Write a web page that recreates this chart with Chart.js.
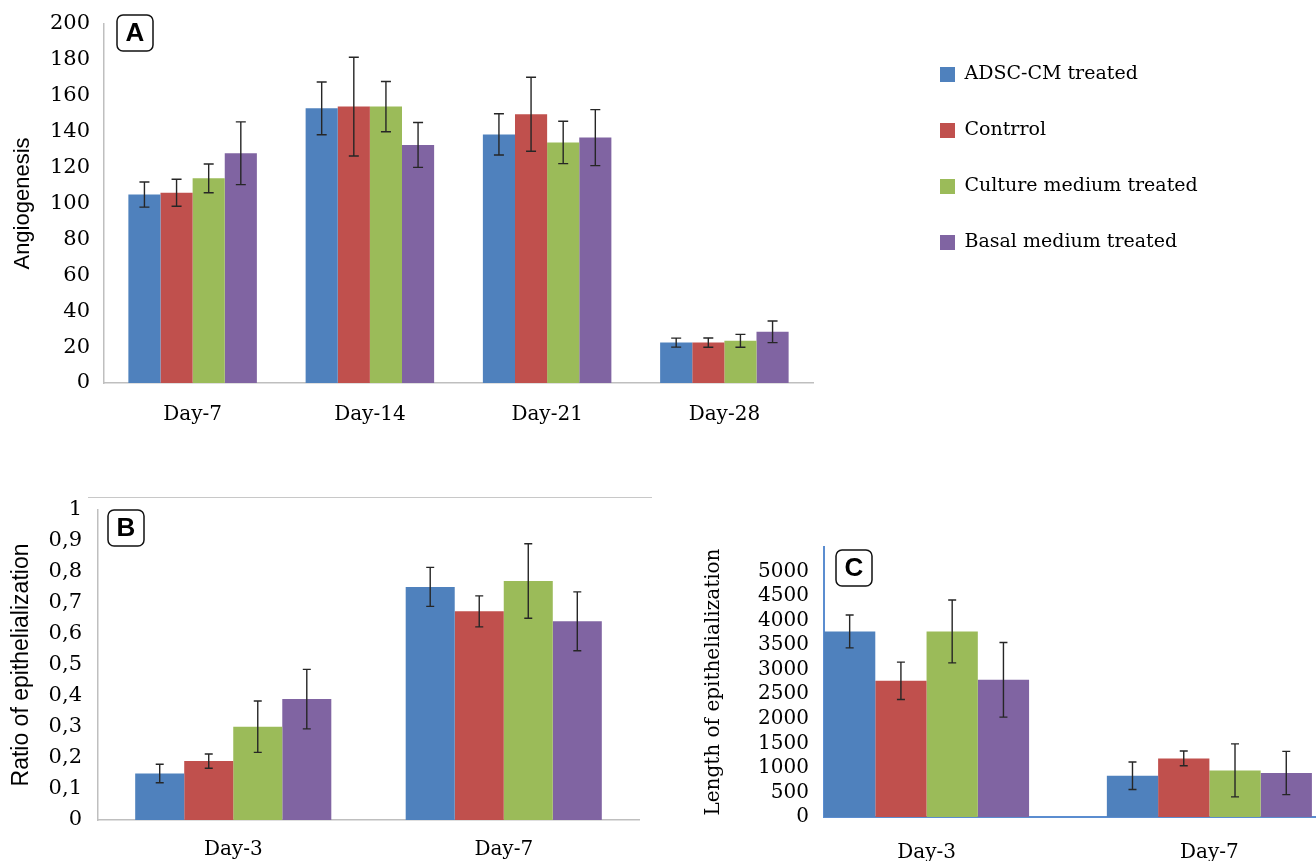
<!DOCTYPE html>
<html>
<head>
<meta charset="utf-8">
<script src="https://cdn.jsdelivr.net/npm/chart.js@4/dist/chart.umd.min.js"></script>
<style>
  body { margin: 0; background: #fff; width: 1316px; height: 861px; overflow: hidden; position: relative; }
  canvas { position: absolute; }
</style>
</head>
<body>
<canvas id="chartA" width="840" height="430" style="left:0;top:0"></canvas>
<canvas id="chartB" width="660" height="371" style="left:0;top:490px"></canvas>
<canvas id="chartC" width="626" height="335" style="left:690px;top:526px"></canvas>
<canvas id="legendBox" width="415" height="300" style="left:903px;top:28px"></canvas>
<script>
// === Gruppen + Farben ===
const groups = ['ADSC-CM treated', 'Contrrol', 'Culture medium treated', 'Basal medium treated'];
const colors = ['#4f81bd', '#c0504d', '#9bbb59', '#8064a2'];

// === A: Angiogenesis ===
const daysA = ['Day-7', 'Day-14', 'Day-21', 'Day-28'];
const angioMean = [
    [105, 153, 138.5, 22.5],
    [106, 154, 149.7, 22.5],
    [114, 154, 134, 23.5],
    [128, 132.6, 136.7, 28.5]
];
const angioErr = [
    [7, 14.7, 11.5, 2.5],
    [7.5, 27.5, 20.6, 2.6],
    [8, 14, 11.8, 3.6],
    [17.5, 12.5, 15.6, 6]
];

// === B: Ratio of epithelialization ===
const daysB = ['Day-3', 'Day-7'];
const ratioMean = [
    [0.15, 0.752],
    [0.19, 0.673],
    [0.301, 0.771],
    [0.39, 0.641]
];
const ratioErr = [
    [0.03, 0.063],
    [0.023, 0.05],
    [0.083, 0.12],
    [0.096, 0.095]
];
const ticksB = ['0', '0,1', '0,2', '0,3', '0,4', '0,5', '0,6', '0,7', '0,8', '0,9', '1'];

// === C: Length of epithelialization ===
const daysC = ['Day-3', 'Day-7'];
const lengthMean = [
    [3780, 841],
    [2775, 1193],
    [3780, 949],
    [2795, 896]
];
const lengthErr = [
    [335, 280],
    [380, 150],
    [640, 540],
    [760, 440]
];

const serif = 'DejaVu Serif';
const sans = 'Liberation Sans';

// === Fehlerbalken ===
const errorBars = {
    id: 'errorBars',
    afterDatasetsDraw(chart, args, opts) {
        const ctx = chart.ctx;
        const yScale = chart.scales.y;
        ctx.save();
        ctx.strokeStyle = '#262626';
        ctx.lineWidth = 1.4;
        chart.data.datasets.forEach((ds, i) => {
            const meta = chart.getDatasetMeta(i);
            meta.data.forEach((bar, j) => {
                const v = meta.controller.getParsed(j).y;
                const e = ds.errors[j];
                const top = yScale.getPixelForValue(v + e);
                const bot = yScale.getPixelForValue(v - e);
                const c = opts.cap || 5;
                ctx.beginPath();
                ctx.moveTo(bar.x, top); ctx.lineTo(bar.x, bot);
                ctx.moveTo(bar.x - c, top); ctx.lineTo(bar.x + c, top);
                ctx.moveTo(bar.x - c, bot); ctx.lineTo(bar.x + c, bot);
                ctx.stroke();
            });
        });
        ctx.restore();
    }
};

// === Buchstabe A / B / C im Kasten ===
const panelTag = {
    id: 'panelTag',
    afterDraw(chart, args, o) {
        if (!o.text) return;
        const { ctx, chartArea } = chart;
        const x = chartArea.left + o.dx, y = chartArea.top + o.dy, w = 36, h = 36;
        ctx.save();
        ctx.beginPath();
        ctx.roundRect(x, y, w, h, 6);
        ctx.fillStyle = '#fff';
        ctx.fill();
        ctx.lineWidth = 1.5;
        ctx.strokeStyle = '#111';
        ctx.stroke();
        ctx.font = 'bold 26px "' + sans + '"';
        ctx.textAlign = 'center';
        ctx.textBaseline = 'middle';
        ctx.fillStyle = '#000';
        ctx.fillText(o.text, x + w / 2, y + h / 2 + 1);
        if (o.rule) {
            // obere Rahmenlinie (nur Panel B)
            ctx.beginPath();
            ctx.strokeStyle = '#c8c8c8';
            ctx.lineWidth = 1.2;
            ctx.moveTo(chartArea.left - 10, chartArea.top - 12.5);
            ctx.lineTo(chart.width - 8, chartArea.top - 12.5);
            ctx.stroke();
        }
        ctx.restore();
    }
};

function makeDatasets(means, errs, xNumeric) {
    return groups.map((g, i) => ({
        label: g,
        data: xNumeric ? means[i].map((v, j) => ({ x: j, y: v })) : means[i],
        errors: errs[i],
        backgroundColor: colors[i],
        borderWidth: 0,
        barPercentage: 1,
        categoryPercentage: 0.725
    }));
}

// === Allgemeine Funktion zum Aufbau der Panels ===
function buildPanel(id, labels, datasets, xOpts, yOpts, pad, tag, cap) {
    return new Chart(document.getElementById(id), {
        type: 'bar',
        data: { labels: labels, datasets: datasets },
        options: {
            responsive: false,
            animation: false,
            layout: { padding: pad },
            plugins: {
                legend: { display: false },
                tooltip: { enabled: false },
                panelTag: tag,
                errorBars: { cap: cap }
            },
            scales: { x: xOpts, y: yOpts }
        },
        plugins: [errorBars, panelTag]
    });
}

const greyBorder = { display: true, color: '#bfbfbf', width: 1.5 };
const blueBorder = { display: true, color: '#5b8dd0', width: 2 };

// Panel A
buildPanel('chartA', daysA, makeDatasets(angioMean, angioErr),
    {
        grid: { display: false }, border: greyBorder,
        ticks: { color: '#000', padding: 12, font: { family: serif, size: 20 } },
        afterFit: s => { s.height = 47; }
    },
    {
        min: 0, max: 200,
        grid: { display: false }, border: greyBorder,
        ticks: { stepSize: 20, color: '#000', padding: 6, font: { family: serif, size: 21 } },
        title: { display: true, text: 'Angiogenesis', color: '#000', font: { family: sans, size: 22 }, padding: { top: 10, bottom: 0 } },
        afterFit: s => { s.width = 104; }
    },
    { top: 24, right: 27, left: 0, bottom: 0 },
    { text: 'A', dx: 13, dy: -9 }, 5);

// Panel B
buildPanel('chartB', daysB, makeDatasets(ratioMean, ratioErr),
    {
        grid: { display: false }, border: greyBorder,
        ticks: { color: '#000', padding: 10, font: { family: serif, size: 20 } },
        afterFit: s => { s.height = 41; }
    },
    {
        min: 0, max: 1,
        grid: { display: false }, border: greyBorder,
        ticks: { stepSize: 0.1, color: '#000', padding: 8, font: { family: serif, size: 21, lineHeight: 1 },
                 callback: (v, i) => ticksB[i] },
        title: { display: true, text: 'Ratio of epithelialization', color: '#000', font: { family: sans, size: 23 }, padding: { top: 8, bottom: 0 } },
        afterFit: s => { s.width = 98; }
    },
    { top: 20, right: 21, left: 0, bottom: 0 },
    { text: 'B', dx: 10, dy: 0, rule: true }, 4);

// Panel C (rechts abgeschnitten, daher lineare x-Achse)
buildPanel('chartC', undefined, makeDatasets(lengthMean, lengthErr, true),
    {
        type: 'linear', offset: false, min: -0.3626, max: 1.377,
        grid: { display: false }, border: blueBorder,
        afterBuildTicks: s => { s.ticks = daysC.map((d, i) => ({ value: i })); },
        ticks: { color: '#000', padding: 16, font: { family: serif, size: 20 },
                 callback: v => daysC[v] ?? '' },
        afterFit: s => { s.height = 44; }
    },
    {
        min: 0, max: 5500,
        grid: { display: false }, border: blueBorder,
        ticks: { stepSize: 500, autoSkip: false, color: '#000', padding: 7, font: { family: serif, size: 20, lineHeight: 1 },
                 callback: v => (v > 5000 ? '' : v) },
        title: { display: true, text: 'Length of epithelialization', color: '#000', font: { family: serif, size: 20 }, padding: { top: 12, bottom: 0 } },
        afterFit: s => { s.width = 134; }
    },
    { top: 21, right: 0, left: 0, bottom: 0 },
    { text: 'C', dx: 12, dy: 3 }, 4);

// === Legende ===
new Chart(document.getElementById('legendBox'), {
    type: 'bar',
    data: {
        labels: [],
        datasets: groups.map((g, i) => ({ label: g, data: [], backgroundColor: colors[i], borderWidth: 0 }))
    },
    options: {
        responsive: false,
        animation: false,
        scales: { x: { display: false }, y: { display: false } },
        plugins: {
            tooltip: { enabled: false },
            legend: {
                position: 'left', align: 'start', maxWidth: 400,
                labels: { boxWidth: 15, boxHeight: 15, padding: 37, color: '#000', font: { family: serif, size: 19 } }
            }
        }
    }
});
</script>
</body>
</html>
